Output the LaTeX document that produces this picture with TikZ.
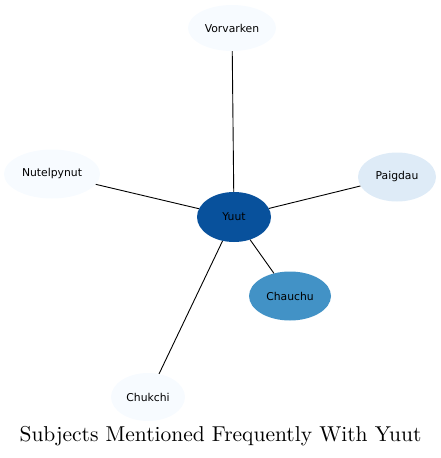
\documentclass[tikz,border=0pt]{standalone}
\usepackage{fontspec}
\newfontfamily\nodefont{DejaVu Sans}
\usetikzlibrary{shapes.geometric}
\definecolor{c0}{HTML}{F7FBFF}
\definecolor{c1}{HTML}{DEEBF7}
\definecolor{c2}{HTML}{4292C6}
\definecolor{c3}{HTML}{08519C}
\begin{document}
\begin{tikzpicture}[x=1pt,y=-1pt,
  ent/.style={ellipse,inner sep=0pt,font=\nodefont\fontsize{10.8}{12}\selectfont,text=black},
  link/.style={draw=black,line width=0.9pt}]
\useasboundingbox (0,0) rectangle (441,458);
\node[ent,fill=c0,minimum width=88,minimum height=46] (vor) at (232,28) {Vorvarken};
\node[ent,fill=c0,minimum width=96,minimum height=49] (nut) at (52,174) {Nutelpynut};
\node[ent,fill=c1,minimum width=78,minimum height=49] (pai) at (397,177) {Paigdau};
\node[ent,fill=c3,minimum width=74,minimum height=50] (yuut) at (234,217) {Yuut};
\node[ent,fill=c2,minimum width=82,minimum height=49] (cha) at (290,296) {Chauchu};
\node[ent,fill=c0,minimum width=74,minimum height=48] (chk) at (148,397) {Chukchi};
\draw[link] (yuut) -- (vor);
\draw[link] (yuut) -- (nut);
\draw[link] (yuut) -- (pai);
\draw[link] (yuut) -- (cha);
\draw[link] (yuut) -- (chk);
\node[inner sep=0pt] (title) at (220.5,436) {\scalebox{2.15}{\fontsize{10}{12}\selectfont Subjects Mentioned Frequently With Yuut}};
\end{tikzpicture}
\end{document}
